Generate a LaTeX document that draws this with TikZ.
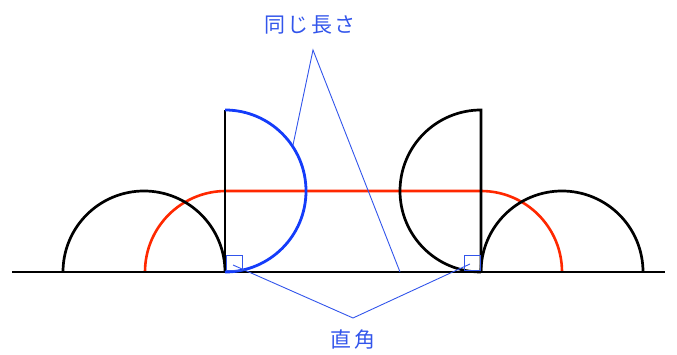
\documentclass[tikz,border=0pt]{standalone}
\usepackage{fontspec}
\newfontfamily\jpfont[LetterSpace=12]{Noto Sans CJK JP}
\usetikzlibrary{positioning}
\definecolor{arcblue}{RGB}{20,60,250}
\definecolor{arcred}{RGB}{255,40,0}
\definecolor{notes}{RGB}{50,85,235}

\begin{document}
\begin{tikzpicture}[
  x=1pt,y=1pt,
  thickline/.style={line width=2.7pt,black},
  bluearc/.style={line width=2.8pt,arcblue},
  redarc/.style={line width=2.6pt,arcred},
  pointer/.style={notes,line width=0.9pt},
  anglemark/.style={notes,line width=1pt},
  label/.style={notes,font=\jpfont\fontsize{21}{21}\selectfont,inner sep=0pt}
]
\useasboundingbox (0,0) rectangle (677,355);
% ground and the two tips
\coordinate (gl) at (12,83);
\coordinate (gr) at (665,83);
\coordinate (pa) at (225,83);
\coordinate (pb) at (481,83);
% red path
\draw[redarc] (145,83) arc[start angle=180,end angle=90,radius=81] -- (481,164)
  arc[start angle=90,end angle=0,radius=81];
% black shapes
\draw[thickline] (gl) -- (gr);
\draw[thickline] (63,83) arc[start angle=180,end angle=0,radius=81];
\draw[thickline] (pa) -- (225,245);
\draw[thickline] (pb) -- (481,245) arc[start angle=90,end angle=270,radius=81];
\draw[thickline] (pb) arc[start angle=180,end angle=0,radius=81];
% blue half circle
\draw[bluearc] (225,245) arc[start angle=90,end angle=-90,radius=81];
% right angle marks
\draw[anglemark] (226,84) rectangle (242,99);
\draw[anglemark] (464,84) rectangle (480,99);
% labels
\node[label] (same) at (310,330) {同じ長さ};
\node[label] (right) at (353,15) {直角};
\coordinate (sametip) at (313,305);
\coordinate (righttip) at (353,37);
\coordinate (onarc) at (293,210);
\coordinate (onbase) at (400,83);
\coordinate (inleft) at (233,90);
\coordinate (inright) at (470,91);
\draw[pointer] (onarc) -- (sametip) -- (onbase);
\draw[pointer] (inleft) -- (righttip) -- (inright);
\end{tikzpicture}
\end{document}
